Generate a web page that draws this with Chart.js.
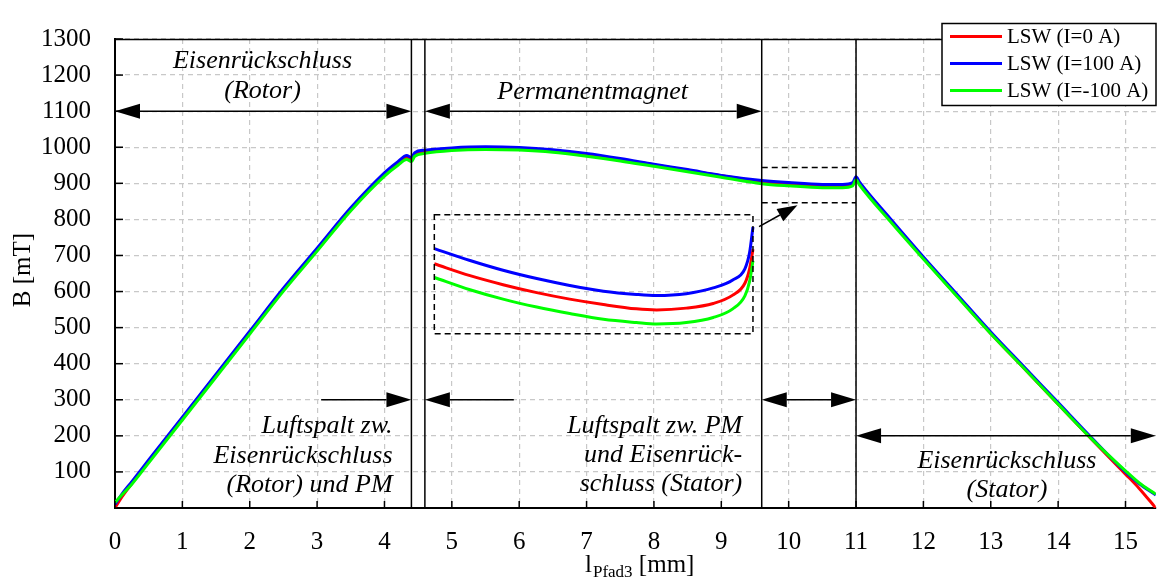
<!DOCTYPE html>
<html lang="de">
<head>
<meta charset="UTF-8">
<title>Flussdichte entlang Pfad 3</title>
<script src="https://cdn.jsdelivr.net/npm/chart.js"></script>
<style>
  body { margin: 0; background: #fff; }
  #wrap { width: 1157px; height: 578px; }
</style>
</head>
<body>
<div id="wrap"><canvas id="chart" width="1157" height="578"></canvas></div>
<script>
// Pfadkoordinate l_Pfad3 [mm]
const xPfad = [0, 0.1, 0.25, 0.5, 1, 1.5, 2, 2.5, 3, 3.5, 4, 4.2, 4.33, 4.4, 4.45, 4.6, 5, 5.5, 6, 6.5, 7, 7.5, 8, 8.5, 9, 9.6, 10, 10.5, 10.8, 10.95, 11, 11.05, 11.5, 12, 12.5, 13, 13.5, 14, 14.5, 15, 15.2, 15.45];
// B [mT] fuer die drei Stroeme
const bI0    = [0, 30, 68, 129, 248, 367, 486, 605, 716, 828, 925, 955, 972, 968, 980, 988, 995, 998, 996, 990, 979, 966, 951, 936, 921, 904, 898, 893, 893, 898, 912, 900, 800, 692, 588, 484, 386, 288, 190, 94, 55, 0];
const bI100  = [10, 38, 73, 133, 252, 371, 490, 609, 720, 832, 929, 960, 977, 972, 985, 992, 998, 1001, 999, 993, 983, 969, 953, 938, 922, 908, 902, 897, 897, 902, 918, 904, 804, 696, 592, 488, 390, 292, 194, 100, 68, 36];
const bIm100 = [15, 36, 66, 125, 244, 363, 482, 601, 712, 824, 920, 950, 966, 960, 975, 983, 991, 994, 992, 986, 975, 962, 947, 932, 917, 899, 893, 888, 888, 893, 910, 896, 796, 690, 586, 483, 386, 288, 191, 103, 70, 38];

// vergroesserter Ausschnitt (so wie er im Diagramm liegt)
const xLupe = [4.74, 5.27, 5.76, 6.26, 6.75, 7.25, 7.74, 8.04, 8.48, 8.88, 9.17, 9.35, 9.42, 9.47];
const lupeI0    = [677, 644, 619, 597, 579, 564, 552, 549, 554, 567, 590, 623, 663, 717];
const lupeI100  = [719, 686, 659, 636, 617, 601, 592, 589, 594, 610, 632, 663, 708, 779];
const lupeIm100 = [639, 605, 579, 557, 539, 523, 514, 510, 514, 528, 552, 588, 628, 685];

const xTickWerte = [0, 1, 2, 3, 4, 5, 6, 7, 8, 9, 10, 11, 12, 13, 14, 15];
const yTickWerte = [0, 100, 200, 300, 400, 500, 600, 700, 800, 900, 1000, 1100, 1200, 1300];

// Bereichsgrenzen
const grenzen = [4.4, 4.6, 9.6, 11.0];

const punkte = (xs, ys) => xs.map((x, i) => ({ x: x, y: ys[i] }));

function kurve(label, daten, farbe, ord) {
    return {
        label: label,
        data: daten,
        borderColor: farbe,
        backgroundColor: farbe,
        borderWidth: 3,
        pointRadius: 0,
        fill: false,
        cubicInterpolationMode: 'monotone',
        order: ord
    };
}

const serif = '"Liberation Serif", "Times New Roman", serif';

// Pfeil mit gefuellten Spitzen
function pfeil(ctx, x1, y1, x2, y2, anfang, ende, len, breite) {
    len = len || 25; breite = breite || 7.5;
    const w = Math.atan2(y2 - y1, x2 - x1);
    ctx.beginPath();
    ctx.moveTo(anfang ? x1 + Math.cos(w) * len : x1, anfang ? y1 + Math.sin(w) * len : y1);
    ctx.lineTo(ende ? x2 - Math.cos(w) * len : x2, ende ? y2 - Math.sin(w) * len : y2);
    ctx.stroke();
    const spitze = (tx, ty, r) => {
        ctx.beginPath();
        ctx.moveTo(tx, ty);
        ctx.lineTo(tx - Math.cos(r) * len - Math.sin(r) * breite, ty - Math.sin(r) * len + Math.cos(r) * breite);
        ctx.lineTo(tx - Math.cos(r) * len + Math.sin(r) * breite, ty - Math.sin(r) * len - Math.cos(r) * breite);
        ctx.closePath();
        ctx.fill();
    };
    if (ende) spitze(x2, y2, w);
    if (anfang) spitze(x1, y1, w + Math.PI);
}

const deko = {
    id: 'deko',
    afterDatasetsDraw(chart) {
        const { ctx, chartArea: a, scales: { x, y } } = chart;
        const px = v => x.getPixelForValue(v);
        const py = v => y.getPixelForValue(v);
        ctx.save();
        ctx.strokeStyle = '#000';
        ctx.fillStyle = '#000';

        // Rahmen oben
        ctx.lineWidth = 1.5;
        ctx.beginPath(); ctx.moveTo(a.left, a.top + 0.5); ctx.lineTo(a.right, a.top + 0.5); ctx.stroke();

        // Striche nach innen
        xTickWerte.forEach(v => {
            ctx.beginPath(); ctx.moveTo(px(v), a.bottom); ctx.lineTo(px(v), a.bottom - 7); ctx.stroke();
        });
        yTickWerte.forEach(v => {
            ctx.beginPath(); ctx.moveTo(a.left, py(v)); ctx.lineTo(a.left + 8, py(v)); ctx.stroke();
        });

        // Bereichsgrenzen
        grenzen.forEach(g => {
            ctx.beginPath(); ctx.moveTo(px(g), a.top); ctx.lineTo(px(g), a.bottom); ctx.stroke();
        });

        // gestrichelte Rahmen (Lupe)
        ctx.setLineDash([6, 4]);
        ctx.strokeRect(px(4.74), py(813), px(9.47) - px(4.74), py(483) - py(813));
        ctx.beginPath();
        ctx.moveTo(px(9.6), py(944)); ctx.lineTo(px(11.0), py(944));
        ctx.moveTo(px(9.6), py(846)); ctx.lineTo(px(11.0), py(846));
        ctx.stroke();
        ctx.setLineDash([]);

        // Pfeile
        pfeil(ctx, px(0), py(1100), px(4.4), py(1100), true, true);
        pfeil(ctx, px(4.6), py(1100), px(9.6), py(1100), true, true);
        pfeil(ctx, px(3.06), py(300), px(4.4), py(300), false, true);
        pfeil(ctx, px(4.6), py(300), px(5.92), py(300), true, false);
        pfeil(ctx, px(9.6), py(300), px(11.0), py(300), true, true);
        pfeil(ctx, px(11.0), py(200), a.right, py(200), true, true);
        pfeil(ctx, px(9.56), py(780), px(10.13), py(839), false, true, 20, 7);

        // Beschriftungen
        ctx.font = 'italic 26px ' + serif;
        ctx.textBaseline = 'alphabetic';
        const texte = [
            ['Eisenrückschluss', 2.19, 1219, 'center'],
            ['(Rotor)', 2.19, 1136, 'center'],
            ['Permanentmagnet', 7.09, 1134, 'center'],
            ['Luftspalt zw.', 4.12, 208, 'right'],
            ['Eisenrückschluss', 4.12, 125, 'right'],
            ['(Rotor) und PM', 4.12, 45, 'right'],
            ['Luftspalt zw. PM', 9.31, 208, 'right'],
            ['und Eisenrück-', 9.31, 127, 'right'],
            ['schluss (Stator)', 9.31, 47, 'right'],
            ['Eisenrückschluss', 13.24, 110, 'center'],
            ['(Stator)', 13.24, 30, 'center']
        ];
        texte.forEach(t => {
            ctx.textAlign = t[3];
            ctx.fillText(t[0], px(t[1]), py(t[2]));
        });

        // Legende
        const lx = 942, ly = 23.5, lw = 214, lh = 82;
        ctx.fillStyle = '#fff';
        ctx.fillRect(lx, ly, lw, lh);
        ctx.strokeStyle = '#000';
        ctx.lineWidth = 1.5;
        ctx.strokeRect(lx, ly, lw, lh);
        ctx.font = '21px ' + serif;
        ctx.textAlign = 'left';
        ctx.textBaseline = 'middle';
        chart.data.datasets.slice(0, 3).forEach((ds, i) => {
            const yy = ly + 13 + i * 27;
            ctx.strokeStyle = ds.borderColor;
            ctx.lineWidth = 3;
            ctx.beginPath(); ctx.moveTo(lx + 8, yy); ctx.lineTo(lx + 60, yy); ctx.stroke();
            ctx.fillStyle = '#000';
            ctx.fillText(ds.label, lx + 65, yy + 1);
        });

        // Achsentitel
        ctx.fillStyle = '#000';
        ctx.textBaseline = 'alphabetic';
        ctx.textAlign = 'left';
        ctx.font = '25px ' + serif;
        let tx = 585;
        ctx.fillText('l', tx, 572);
        tx += ctx.measureText('l').width + 1;
        ctx.font = '17px ' + serif;
        ctx.fillText('Pfad3', tx, 577);
        tx += ctx.measureText('Pfad3').width;
        ctx.font = '25px ' + serif;
        ctx.fillText(' [mm]', tx, 572);

        ctx.save();
        ctx.translate(30, 270);
        ctx.rotate(-Math.PI / 2);
        ctx.textAlign = 'center';
        ctx.fillText('B [mT]', 0, 0);
        ctx.restore();

        ctx.restore();
    }
};

const ctx = document.getElementById('chart').getContext('2d');
const chart = new Chart(ctx, {
    type: 'line',
    data: {
        datasets: [
            kurve('LSW (I=0 A)', punkte(xPfad, bI0), '#ff0000', 3),
            kurve('LSW (I=100 A)', punkte(xPfad, bI100), '#0000ff', 2),
            kurve('LSW (I=-100 A)', punkte(xPfad, bIm100), '#00ff00', 1),
            kurve('Lupe I=0', punkte(xLupe, lupeI0), '#ff0000', 3),
            kurve('Lupe I=100', punkte(xLupe, lupeI100), '#0000ff', 2),
            kurve('Lupe I=-100', punkte(xLupe, lupeIm100), '#00ff00', 1)
        ]
    },
    options: {
        responsive: false,
        animation: false,
        devicePixelRatio: 1,
        layout: { padding: { top: 20, right: 0, bottom: 0, left: 0 } },
        plugins: { legend: { display: false }, tooltip: { enabled: false } },
        scales: {
            x: {
                type: 'linear',
                min: 0,
                max: 15.45,
                afterBuildTicks: s => { s.ticks = xTickWerte.map(v => ({ value: v })); },
                afterFit: s => { s.height = 70; },
                grid: { color: '#c8c8c8', lineWidth: 1.2, drawTicks: false },
                border: { color: '#000', width: 2, dash: [5, 4] },
                ticks: { color: '#000', font: { family: serif, size: 25 }, padding: 19, maxRotation: 0 }
            },
            y: {
                type: 'linear',
                min: 0,
                max: 1300,
                afterBuildTicks: s => { s.ticks = yTickWerte.map(v => ({ value: v })); },
                afterFit: s => { s.width = 115; },
                grid: { color: '#c8c8c8', lineWidth: 1.2, drawTicks: false },
                border: { color: '#000', width: 2, dash: [5, 4] },
                ticks: {
                    color: '#000',
                    font: { family: serif, size: 25 },
                    padding: 24,
                    callback: v => (v === 0 ? '' : v)
                }
            }
        }
    },
    plugins: [deko]
});
</script>
</body>
</html>
